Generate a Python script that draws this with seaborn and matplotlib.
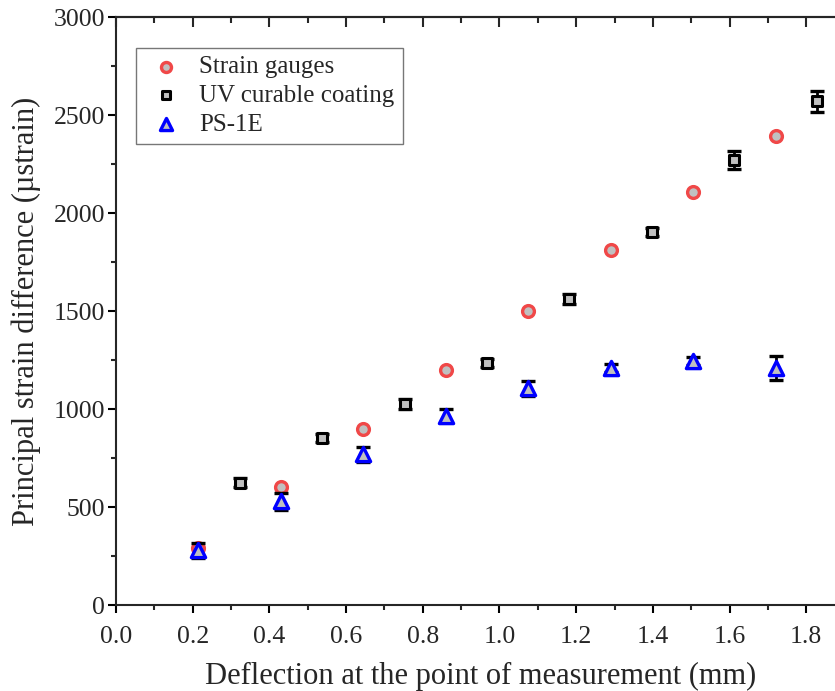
import matplotlib
matplotlib.use("Agg")

import numpy as np
import matplotlib.pyplot as plt
import matplotlib.ticker as mticker
import seaborn as sns

# deflection positions (mm)
x_gauge = [0.215, 0.43, 0.645, 0.86, 1.075, 1.29, 1.505, 1.72]
x_uv    = [0.3225, 0.5375, 0.7525, 0.9675, 1.1825, 1.3975, 1.6125, 1.8275]
x_ps    = [0.215, 0.43, 0.645, 0.86, 1.075, 1.29, 1.505, 1.72]

# principal strain difference (µstrain)
y_gauge = [292, 600, 900, 1200, 1500, 1810, 2105, 2395]
y_uv    = [625, 850, 1025, 1235, 1560, 1905, 2270, 2570]
e_uv    = [25, 20, 25, 20, 25, 20, 45, 55]
y_ps    = [280, 530, 770, 965, 1105, 1210, 1245, 1210]
e_ps    = [38, 43, 38, 33, 40, 20, 22, 60]

labels = ["Strain gauges", "UV curable coating", "PS-1E"]

sns.set_style("ticks")
plt.rcParams["font.family"] = ["Liberation Serif", "DejaVu Serif"]

fig = plt.figure(figsize=(8.35, 6.91), dpi=100)
ax = fig.add_axes([116 / 835, 86 / 691, (844.6 - 116) / 835, 588 / 691])

gray = "#c0c0c0"
sns.scatterplot(x=x_gauge, y=y_gauge, ax=ax, marker="o", s=72, color=gray,
                edgecolor="#f04848", linewidth=2.4, label=labels[0], zorder=3)
ax.errorbar(x_uv, y_uv, yerr=e_uv, fmt="none", ecolor="black", elinewidth=2,
            capsize=5, capthick=2.4, zorder=4)
sns.scatterplot(x=x_uv, y=y_uv, ax=ax, marker="s", s=55, color=gray,
                edgecolor="black", linewidth=2.2, label=labels[1], zorder=5)
ax.errorbar(x_ps, y_ps, yerr=e_ps, fmt="none", ecolor="black", elinewidth=2,
            capsize=5, capthick=2.4, zorder=6)
sns.scatterplot(x=x_ps, y=y_ps, ax=ax, marker="^", s=105, color=gray,
                edgecolor="#0000ff", linewidth=2.4, label=labels[2], zorder=7)

ax.set_xlim(0, 1.9)
ax.set_ylim(0, 3000)
ax.xaxis.set_major_locator(mticker.MultipleLocator(0.2))
ax.xaxis.set_minor_locator(mticker.MultipleLocator(0.1))
ax.xaxis.set_major_formatter(mticker.FormatStrFormatter("%.1f"))
ax.yaxis.set_major_locator(mticker.MultipleLocator(500))
ax.yaxis.set_minor_locator(mticker.MultipleLocator(250))

for sp in ax.spines.values():
    sp.set_linewidth(1.5)
    sp.set_visible(True)

ax.tick_params(which="major", direction="out", length=6, width=1.5,
               labelsize=18.5, color="black")
ax.tick_params(axis="y", which="major", pad=2)
ax.tick_params(axis="x", which="major", pad=9)
ax.tick_params(which="minor", direction="out", length=3.5, width=1.5)

# inward ticks on top and right spines
top = ax.secondary_xaxis("top")
top.xaxis.set_major_locator(mticker.MultipleLocator(0.2))
top.xaxis.set_minor_locator(mticker.MultipleLocator(0.1))
top.tick_params(which="major", direction="in", length=7.5, width=1.5, labeltop=False)
top.tick_params(which="minor", direction="in", length=4, width=1.5)
top.spines["top"].set_linewidth(1.5)
right = ax.secondary_yaxis("right")
right.yaxis.set_major_locator(mticker.MultipleLocator(500))
right.yaxis.set_minor_locator(mticker.MultipleLocator(250))
right.tick_params(which="major", direction="in", length=7.5, width=1.5, labelright=False)
right.tick_params(which="minor", direction="in", length=4, width=1.5)
right.spines["right"].set_linewidth(1.5)

ax.set_xlabel("Deflection at the point of measurement (mm)", fontsize=22, labelpad=10)
ax.set_ylabel("Principal strain difference (\u00b5strain)", fontsize=22, labelpad=9)

leg = ax.legend(loc="upper left", bbox_to_anchor=(0.028, 0.948), fontsize=18,
                frameon=True, fancybox=False, edgecolor="#555555",
                handlelength=1.7, handletextpad=0.5, borderpad=0.32,
                labelspacing=0.25, borderaxespad=0, markerscale=0.85)
leg.get_frame().set_linewidth(1.0)

plt.savefig("out.png", dpi=100)
plt.close()
